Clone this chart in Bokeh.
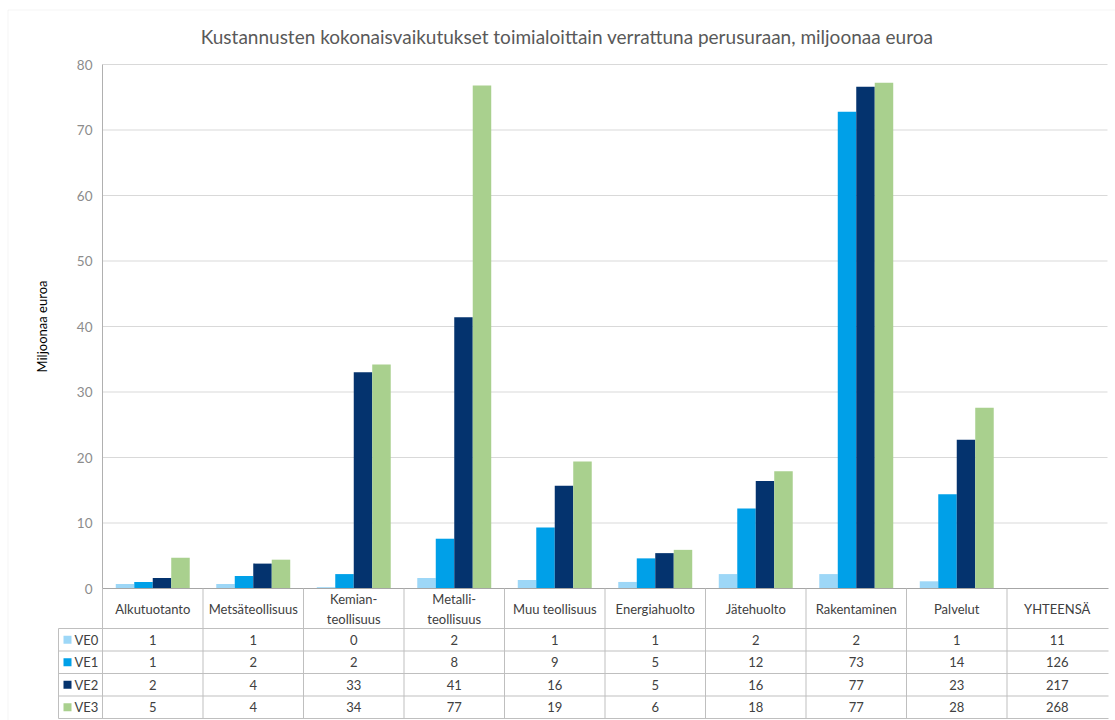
import numpy as np
from bokeh.plotting import figure
from bokeh.models import Range1d, LinearAxis, FixedTicker, ColumnDataSource, Label, BoxAnnotation
from bokeh.core.properties import value
from bokeh.embed import file_html
from bokeh.resources import INLINE

# ---- data -------------------------------------------------------------
categories = ["Alkutuotanto", "Metsäteollisuus", "Kemian-\nteollisuus", "Metalli-\nteollisuus",
              "Muu teollisuus", "Energiahuolto", "Jätehuolto", "Rakentaminen", "Palvelut"]
total_label = "YHTEENSÄ"
series_names = ["VE0", "VE1", "VE2", "VE3"]
ve0 = [0.7, 0.7, 0.2, 1.6, 1.3, 1.0, 2.2, 2.2, 1.1]
ve1 = [1.0, 1.9, 2.2, 7.6, 9.3, 4.6, 12.2, 72.8, 14.4]
ve2 = [1.6, 3.8, 33.0, 41.4, 15.7, 5.4, 16.4, 76.6, 22.7]
ve3 = [4.7, 4.4, 34.2, 76.8, 19.4, 5.9, 17.9, 77.2, 27.6]
y_ticks = [0, 10, 20, 30, 40, 50, 60, 70, 80]

title_text = "Kustannusten kokonaisvaikutukset toimialoittain verrattuna perusuraan, miljoonaa euroa"
y_label_text = "Miljoonaa euroa"

series_values = [ve0, ve1, ve2, ve3]
series_colors = ["#9dd7f7", "#00a0e8", "#04336e", "#a9d08e"]

# ---- geometry (pixels of the page, converted to data units) -----------
W, H = 1115, 720
AXIS_PX = 102.0      # x pixel of the value axis
COL_PX = 100.5       # width of one category column
ZERO_PX = 588.0      # y pixel of value 0
TOP_PX = 64.0        # y pixel of value 80
Y_PER = (ZERO_PX - TOP_PX) / 80.0
PLOT_RIGHT = 1108


def xu(px):
    return (px - AXIS_PX) / COL_PX


def yu(py):
    return (ZERO_PX - py) / Y_PER


n_cols = len(categories) + 1
font = "Lato"
text_color = "#404040"
table_line = "#bfbfbf"

p = figure(width=W, height=H, output_backend="svg", toolbar_location=None,
           x_range=Range1d(xu(0), xu(W)),
           y_range=Range1d(yu(H), yu(0)),
           x_axis_type=None, y_axis_type=None,
           min_border_left=0, min_border_right=0,
           min_border_top=0, min_border_bottom=0)
p.outline_line_color = None
p.background_fill_color = "white"
p.border_fill_color = "white"

# outer chart border
p.add_layout(BoxAnnotation(left=xu(7.5), right=xu(W + 10), top=yu(9.5), bottom=yu(H + 10),
                           fill_alpha=0, line_color="#d9d9d9", line_width=1, level="underlay"))

# horizontal gridlines
grid_y = y_ticks[1:]
p.segment(x0=[0] * len(grid_y), x1=[xu(1107)] * len(grid_y), y0=grid_y, y1=grid_y,
          line_color="#d9d9d9", line_width=1)

# value axis placed at the left edge of the category columns
yax = LinearAxis(fixed_location=0, bounds=(0, 80), ticker=FixedTicker(ticks=y_ticks),
                 axis_line_color="#b0b0b0", major_tick_line_color=None, minor_tick_line_color=None,
                 major_tick_out=0, major_tick_in=0, major_label_standoff=10,
                 major_label_text_color="#8c8c8c", major_label_text_font=font,
                 major_label_text_font_size="13.5px")
p.add_layout(yax, "left")

# grouped bars
bar_w = 0.184
for k, (vals, col) in enumerate(zip(series_values, series_colors)):
    xs = [i + 0.5 + (k - 1.5) * bar_w for i in range(len(vals))]
    src = ColumnDataSource(dict(x=xs, top=vals))
    p.vbar(x="x", top="top", bottom=0, width=bar_w, source=src, fill_color=col, line_color=None)

# ---- data table under the chart ---------------------------------------
header_bottom = yu(628)
row_h = 22.5
row_edges = [yu(628 + r * row_h) for r in range(len(series_names) + 1)]
table_bottom = row_edges[-1]
label_left = xu(58)

# category-axis line
p.segment(x0=[0], x1=[xu(PLOT_RIGHT)], y0=[0], y1=[0], line_color="#a6a6a6", line_width=1)
# row lines
p.segment(x0=[label_left] * len(row_edges), x1=[xu(PLOT_RIGHT)] * len(row_edges),
          y0=row_edges, y1=row_edges, line_color=table_line, line_width=1)
# column lines
col_x = list(range(n_cols))
p.segment(x0=col_x, x1=col_x, y0=[0] * n_cols, y1=[table_bottom] * n_cols,
          line_color=table_line, line_width=1)
p.segment(x0=[label_left], x1=[label_left], y0=[header_bottom], y1=[table_bottom],
          line_color=table_line, line_width=1)

# header texts
header = categories + [total_label]
p.text(x=[i + 0.5 for i in range(n_cols)], y=[yu(608)] * n_cols, text=header,
       text_font=value(font), text_font_size="13px", text_color=text_color,
       text_align="center", text_baseline="middle", text_line_height=1.25)

# value rows (rounded values plus the total of each series)
cell_x, cell_y, cell_t = [], [], []
for r, vals in enumerate(series_values):
    yc = (row_edges[r] + row_edges[r + 1]) / 2
    for i, v in enumerate(vals + [sum(vals)]):
        cell_x.append(i + 0.5)
        cell_y.append(yc)
        cell_t.append(str(int(round(v))))
p.text(x=cell_x, y=cell_y, text=cell_t, text_font=value(font), text_font_size="13px",
       text_color=text_color, text_align="center", text_baseline="middle")

# legend keys in the row-label column
row_centers = [(row_edges[r] + row_edges[r + 1]) / 2 for r in range(len(series_names))]
p.scatter(x=[xu(67)] * len(series_names), y=row_centers, marker="square", size=8,
          fill_color=series_colors, line_color=None)
p.text(x=[xu(74)] * len(series_names), y=row_centers, text=series_names,
       text_font=value(font), text_font_size="13px", text_color=text_color,
       text_align="left", text_baseline="middle")

# title and axis label
p.add_layout(Label(x=xu(566.5), y=yu(36), text=title_text, text_font=font,
                   text_font_size="19px", text_color="#595959",
                   text_align="center", text_baseline="middle"))
p.add_layout(Label(x=xu(41), y=40, text=y_label_text, angle=np.pi / 2, text_font=font,
                   text_font_size="13px", text_color="#000000",
                   text_align="center", text_baseline="middle"))

open("out.html", "w").write(file_html(p, INLINE))
